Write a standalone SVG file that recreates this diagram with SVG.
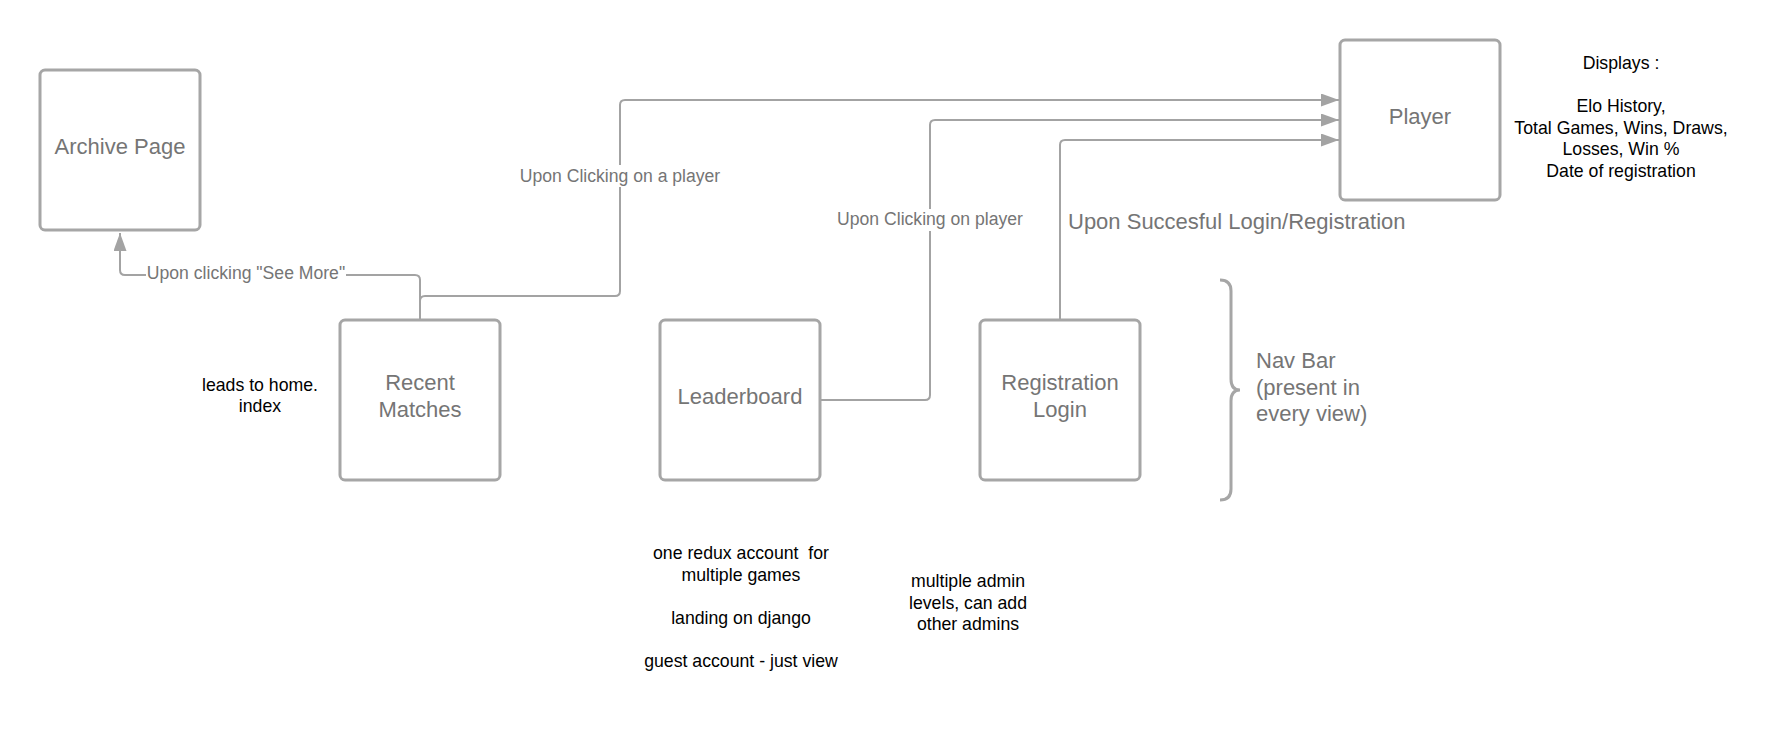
<svg xmlns="http://www.w3.org/2000/svg" width="1780" height="741" viewBox="0 0 1780 741">
<style>
.box{fill:#fff;stroke:#a6a6a6;stroke-width:3}
.lbl{font-family:"Liberation Sans",Arial,sans-serif;font-size:22px;fill:#757575;text-anchor:middle}
.con{fill:none;stroke:#a3a3a3;stroke-width:2}
.clbl{font-family:"Liberation Sans",Arial,sans-serif;font-size:17.6px;fill:#757575;text-anchor:middle}
.note{font-family:"Liberation Sans",Arial,sans-serif;font-size:17.7px;fill:#000;text-anchor:middle}
.bg{fill:#fff}
</style>
<defs>
<marker id="arr" markerWidth="18" markerHeight="13" refX="18" refY="6.5" orient="auto" markerUnits="userSpaceOnUse">
<path d="M0,0 L18,6.5 L0,13 Z" fill="#a3a3a3"/>
</marker>
</defs>
<rect width="1780" height="741" fill="#fff"/>
<g id="connectors">
<path class="con" d="M420,320 V301 Q420,296 425,296 H615 Q620,296 620,291 V105 Q620,100 625,100 H1339" marker-end="url(#arr)"/>
<path class="con" d="M420,320 V280 Q420,275 415,275 H125 Q120,275 120,270 V233" marker-end="url(#arr)"/>
<path class="con" d="M820,400 H925 Q930,400 930,395 V125 Q930,120 935,120 H1339" marker-end="url(#arr)"/>
<path class="con" d="M1060,320 V145 Q1060,140 1065,140 H1339" marker-end="url(#arr)"/>
<rect class="bg" x="146" y="263" width="200" height="22"/>
<text class="clbl" x="246" y="279">Upon clicking "See More"</text>
<rect class="bg" x="519" y="165" width="202" height="22"/>
<text class="clbl" x="620" y="181.5">Upon Clicking on a player</text>
<rect class="bg" x="837" y="209" width="186" height="22"/>
<text class="clbl" x="930" y="225">Upon Clicking on player</text>
<text class="lbl" x="1068" y="229" style="text-anchor:start">Upon Succesful Login/Registration</text>
</g>
<g id="archive">
<rect class="box" x="40" y="70" width="160" height="160" rx="5"/>
<text class="lbl" x="120" y="154">Archive Page</text>
</g>
<g id="recent">
<rect class="box" x="340" y="320" width="160" height="160" rx="5"/>
<text class="lbl" x="420" y="390">Recent</text>
<text class="lbl" x="420" y="416.5">Matches</text>
</g>
<g id="leaderboard">
<rect class="box" x="660" y="320" width="160" height="160" rx="5"/>
<text class="lbl" x="740" y="404">Leaderboard</text>
</g>
<g id="registration">
<rect class="box" x="980" y="320" width="160" height="160" rx="5"/>
<text class="lbl" x="1060" y="390">Registration</text>
<text class="lbl" x="1060" y="416.5">Login</text>
</g>
<g id="player">
<rect class="box" x="1340" y="40" width="160" height="160" rx="5"/>
<text class="lbl" x="1420" y="124">Player</text>
</g>
<g id="navbar">
<path d="M1220,280 Q1231,280 1231,291 V379 Q1231,390 1240,390 Q1231,390 1231,401 V489 Q1231,500 1220,500" fill="none" stroke="#a6a6a6" stroke-width="3"/>
<text class="lbl" style="text-anchor:start" x="1256" y="368">Nav Bar</text>
<text class="lbl" style="text-anchor:start" x="1256" y="394.5">(present in</text>
<text class="lbl" style="text-anchor:start" x="1256" y="421">every view)</text>
</g>
<g id="displays-note">
<text class="note" x="1621" y="69">Displays :</text>
<text class="note" x="1621" y="112">Elo History,</text>
<text class="note" x="1621" y="133.5">Total Games, Wins, Draws,</text>
<text class="note" x="1621" y="155">Losses, Win %</text>
<text class="note" x="1621" y="176.5">Date of registration</text>
</g>
<g id="home-note">
<text class="note" x="260" y="390.5">leads to home.</text>
<text class="note" x="260" y="411.5">index</text>
</g>
<g id="account-note">
<text class="note" x="741" y="559" xml:space="preserve">one redux account  for</text>
<text class="note" x="741" y="580.5">multiple games</text>
<text class="note" x="741" y="623.5">landing on django</text>
<text class="note" x="741" y="666.5">guest account - just view</text>
</g>
<g id="admin-note">
<text class="note" x="968" y="587">multiple admin</text>
<text class="note" x="968" y="608.5">levels, can add</text>
<text class="note" x="968" y="630">other admins</text>
</g>
</svg>
